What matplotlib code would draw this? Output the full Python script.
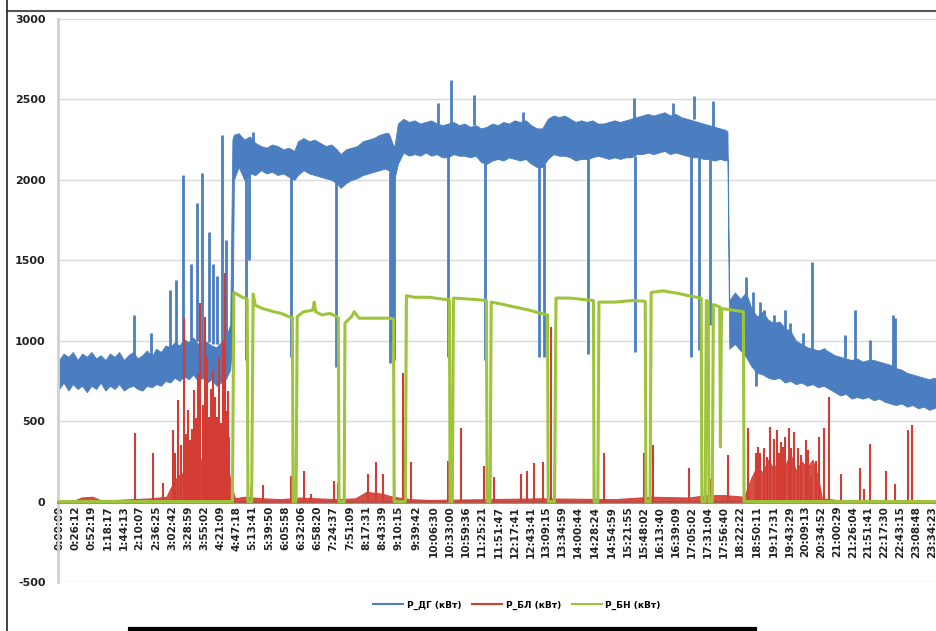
import matplotlib
matplotlib.use("Agg")
import matplotlib.pyplot as plt
from matplotlib.lines import Line2D

plt.rcParams["axes.unicode_minus"] = False

# x tick labels (time of day), every ~26 min
tick_labels = ["0:00:09", "0:26:12", "0:52:19", "1:18:17", "1:44:13", "2:10:07", "2:36:25",
               "3:02:42", "3:28:59", "3:55:02", "4:21:09", "4:47:18", "5:13:41", "5:39:50",
               "6:05:58", "6:32:06", "6:58:20", "7:24:37", "7:51:09", "8:17:31", "8:43:39",
               "9:10:15", "9:39:42", "10:06:30", "10:33:00", "10:59:36", "11:25:21", "11:51:47",
               "12:17:41", "12:43:41", "13:09:15", "13:34:59", "14:00:44", "14:28:24", "14:54:59",
               "15:21:55", "15:48:02", "16:13:40", "16:39:09", "17:05:02", "17:31:04", "17:56:40",
               "18:22:22", "18:50:11", "19:17:31", "19:43:29", "20:09:13", "20:34:52", "21:00:29",
               "21:26:04", "21:51:41", "22:17:30", "22:43:15", "23:08:48", "23:34:23"]

# P_ДГ (kW) - min/max band per time (hours)
dg_t = [0.0, 0.12, 0.25, 0.37, 0.5, 0.62, 0.75, 0.87, 1.0, 1.12, 1.25, 1.37, 1.5, 1.62,
        1.75, 1.87, 2.0, 2.12, 2.25, 2.37, 2.5, 2.62, 2.75, 2.87, 3.0, 3.12, 3.25, 3.37,
        3.5, 3.62, 3.75, 3.87, 4.0, 4.12, 4.25, 4.37, 4.5, 4.62, 4.68,
        4.72, 4.85, 5.0, 5.15, 5.3, 5.45, 5.6, 5.75, 5.9, 6.05, 6.2, 6.35, 6.45, 6.6, 6.75,
        6.9, 7.05, 7.2, 7.35, 7.5, 7.6, 7.75, 7.9, 8.05, 8.2, 8.35, 8.5, 8.65, 8.8, 8.9,
        9.05, 9.15, 9.3, 9.45, 9.6, 9.75, 9.9, 10.05, 10.2, 10.35, 10.5, 10.65, 10.8, 10.95,
        11.1, 11.25, 11.4, 11.55, 11.7, 11.85, 12.0, 12.15, 12.3, 12.45, 12.6, 12.75, 12.9,
        13.05, 13.2, 13.35, 13.5, 13.65, 13.8, 13.95, 14.1, 14.25, 14.4, 14.55, 14.7, 14.85,
        15.0, 15.15, 15.3, 15.45, 15.6, 15.75, 15.9, 16.05, 16.2, 16.35, 16.5, 16.65, 16.8,
        16.95, 17.1, 17.25, 17.4, 17.55, 17.7, 17.85, 18.0, 18.05,
        18.1, 18.25, 18.4, 18.55, 18.7, 18.85, 19.0, 19.15, 19.3, 19.45, 19.6, 19.75, 19.9,
        20.05, 20.2, 20.35, 20.5, 20.65, 20.8, 20.95, 21.1, 21.25, 21.4, 21.55, 21.7, 21.85,
        22.0, 22.15, 22.3, 22.45, 22.6, 22.75, 22.9, 23.05, 23.2, 23.35, 23.5, 23.62, 23.74]
dg_lo = [700, 740, 690, 730, 700, 720, 680, 720, 700, 740, 690, 720, 700, 730,
         690, 710, 720, 700, 690, 720, 710, 730, 720, 750, 740, 770, 750, 780,
         760, 790, 750, 770, 740, 760, 720, 740, 760, 820, 1000,
         2000, 2080, 2000, 2040, 2030, 2060, 2040, 2050, 2030, 2040, 2020, 2000, 2030, 2060, 2040,
         2030, 2020, 2010, 2000, 1980, 1950, 1980, 2000, 2010, 2030, 2040, 2050, 2060, 2070, 2060,
         2000, 2100, 2170, 2150, 2160, 2150, 2170, 2150, 2160, 2140, 2140, 2160, 2150, 2150,
         2140, 2150, 2110, 2100, 2120, 2130, 2120, 2140, 2130, 2120, 2130, 2100, 2080,
         2080, 2130, 2160, 2150, 2150, 2140, 2120, 2130, 2130, 2140, 2150, 2140, 2130,
         2140, 2130, 2140, 2140, 2160, 2160, 2170, 2160, 2170, 2180, 2160, 2170, 2160,
         2150, 2140, 2140, 2130, 2130, 2120, 2130, 2120, 2130,
         950, 980, 940, 900, 840, 800, 790, 770, 760, 770, 740, 750, 730,
         740, 720, 730, 710, 720, 700, 680, 660, 670, 640, 650, 640, 650,
         630, 640, 620, 610, 600, 610, 590, 600, 580, 590, 570, 580, 590]
dg_hi = [880, 920, 900, 930, 880, 920, 900, 930, 890, 910, 880, 920, 900, 930,
         880, 910, 930, 890, 910, 940, 900, 950, 930, 970, 960, 990, 970, 1010,
         990, 1020, 980, 1000, 990, 970, 960, 990, 1020, 1100, 2250,
         2280, 2290, 2250, 2270, 2230, 2210, 2200, 2220, 2210, 2190, 2200, 2180, 2240, 2260, 2240,
         2250, 2230, 2210, 2220, 2190, 2160, 2190, 2200, 2210, 2240, 2250, 2260, 2280, 2290, 2290,
         2200, 2350, 2380, 2360, 2370, 2350, 2360, 2370, 2350, 2340, 2350, 2360, 2340, 2350,
         2330, 2340, 2320, 2330, 2350, 2340, 2360, 2350, 2370, 2360, 2370, 2340, 2320,
         2320, 2380, 2400, 2390, 2400, 2380, 2360, 2370, 2360, 2370, 2350, 2350, 2360,
         2370, 2360, 2370, 2380, 2390, 2400, 2410, 2400, 2410, 2420, 2400, 2410, 2390,
         2380, 2370, 2360, 2350, 2340, 2330, 2320, 2310, 2300,
         1250, 1300, 1260, 1300, 1200, 1150, 1180, 1130, 1110, 1120, 1080, 1060, 1000,
         980, 960, 950, 940, 950, 930, 910, 900, 890, 880, 890, 870, 880,
         880, 870, 860, 850, 830, 820, 800, 790, 780, 770, 760, 770, 760]

# P_ДГ spikes and dips: time, from, to
dg_v_t = [2.03, 2.48, 3.00, 3.16, 3.35, 3.56, 3.73, 3.86, 4.05, 4.16, 4.27, 4.40, 4.51,
          5.05, 5.12, 5.24, 6.27, 7.48, 8.93, 8.98, 9.05, 10.23, 10.50, 10.59, 11.21, 11.50,
          12.53, 12.96, 13.10, 14.29, 15.53, 15.55, 16.58, 17.07, 17.15, 17.28, 17.58, 17.66,
          18.55, 18.74, 18.82, 18.93, 19.04, 19.31, 19.61, 19.74, 20.09, 20.33, 20.66, 21.23,
          21.50, 21.90, 22.52, 22.58]
dg_v_from = [900, 900, 950, 980, 1000, 1000, 1000, 990, 990, 980, 980, 1000, 1020,
             2050, 2050, 2200, 2050, 2020, 2050, 2050, 2050, 2350, 2150, 2350, 2340, 2130,
             2350, 2100, 2100, 2150, 2360, 2150, 2380, 2150, 2380, 2150, 2150, 2330,
             1250, 1150, 900, 1150, 1150, 1100, 1080, 1050, 960, 940, 920, 890,
             870, 870, 830, 830]
dg_v_to = [1160, 1045, 1315, 1377, 2030, 1480, 1855, 2043, 1675, 1480, 1400, 2280, 1625,
           880, 1500, 2300, 900, 835, 860, 1000, 880, 2480, 900, 2620, 2530, 880,
           2420, 900, 900, 920, 2510, 930, 2480, 900, 2520, 940, 1100, 2490,
           1395, 1302, 720, 1240, 1190, 1159, 1190, 1109, 1047, 1489, 953, 1034,
           1190, 1003, 1159, 1140]

# P_БЛ (kW) - base level and spikes
bl_t = [0.0, 0.4, 0.6, 0.9, 1.1, 1.5, 2.0, 2.5, 2.9, 3.0, 3.15, 3.3, 3.4, 3.5, 3.6, 3.7,
        3.8, 3.9, 4.0, 4.1, 4.2, 4.3, 4.4, 4.5, 4.65, 4.75, 5.0, 5.5, 6.0, 6.5, 7.0, 7.5,
        8.0, 8.3, 8.7, 9.0, 9.5, 10.0, 13.0, 15.0, 16.0, 17.0, 17.5, 18.0, 18.5, 18.7,
        18.85, 19.0, 19.15, 19.3, 19.45, 19.6, 19.75, 19.9, 20.05, 20.2, 20.35, 20.5,
        20.6, 21.0, 22.0, 23.74]
bl_v = [5, 5, 25, 30, 10, 10, 15, 20, 30, 80, 140, 180, 120, 250, 160, 220,
        280, 200, 320, 230, 300, 260, 350, 280, 100, 20, 30, 20, 15, 25, 20, 15,
        20, 60, 50, 30, 15, 10, 20, 15, 30, 25, 40, 40, 30, 150,
        220, 180, 260, 200, 280, 220, 300, 190, 250, 210, 260, 150,
        20, 10, 10, 5]
bl_spk_t = [2.05, 2.54, 2.81, 3.08, 3.14, 3.21, 3.30, 3.38, 3.44, 3.48, 3.53, 3.58, 3.65,
            3.70, 3.75, 3.81, 3.88, 3.94, 4.00, 4.05, 4.10, 4.16, 4.22, 4.27, 4.33, 4.37,
            4.42, 4.48, 4.52, 4.56, 4.60,
            5.10, 5.18, 5.51, 6.27, 6.62, 6.81, 7.43, 7.53, 8.34, 8.56, 8.75, 9.05, 9.29, 9.51,
            10.50, 10.86, 11.48, 11.75, 12.48, 12.65, 12.83, 13.07, 13.29, 14.45, 14.72, 15.80,
            16.04, 17.01, 17.58, 18.07, 18.61, 18.82, 18.88, 18.93, 19.04, 19.12, 19.20, 19.31,
            19.39, 19.45, 19.50, 19.56, 19.61, 19.70, 19.78, 19.85, 19.96, 20.04, 20.16, 20.23,
            20.31, 20.44, 20.52, 20.66, 20.79, 21.12, 21.63, 21.74, 21.90, 22.33, 22.58, 22.93,
            23.04]
bl_spk_v = [424, 305, 118, 442, 300, 629, 350, 1140, 420, 567, 380, 450, 691,
            520, 800, 1233, 600, 1146, 900, 523, 700, 816, 650, 523, 900, 486,
            1000, 1420, 560, 690, 400,
            617, 90, 100, 162, 193, 50, 130, 118, 174, 243, 174, 193, 800, 243,
            255, 455, 224, 150, 174, 193, 237, 243, 1084, 174, 299, 299,
            349, 206, 143, 287, 455, 299, 340, 300, 330, 280, 461, 392,
            442, 300, 370, 340, 400, 455, 330, 430, 330, 290, 380, 320,
            150, 250, 399, 455, 648, 174, 206, 81, 361, 193, 112, 442,
            473]

# P_БН (kW)
bn_t = [0.0, 4.68, 4.72, 4.80, 4.95, 5.08, 5.10, 5.20, 5.24, 5.30, 5.5, 5.8, 6.0, 6.2,
        6.30, 6.32, 6.40, 6.43, 6.6, 6.85, 6.89, 6.93, 7.1, 7.3, 7.5, 7.54, 7.56, 7.70,
        7.72, 7.9, 7.97, 8.1, 8.5, 8.9, 9.03, 9.05, 9.35, 9.38, 9.6, 10.0, 10.3, 10.54,
        10.56, 10.62, 10.65, 11.0, 11.3, 11.54, 11.56, 11.64, 11.67, 11.9, 12.3, 12.7,
        13.0, 13.19, 13.21, 13.38, 13.42, 13.8, 14.2, 14.43, 14.45, 14.55, 14.58, 15.0,
        15.5, 15.83, 15.85, 15.96, 15.99, 16.3, 16.7, 17.0, 17.34, 17.36, 17.45, 17.48,
        17.53, 17.55, 17.64, 17.67, 17.84, 17.86, 17.89, 18.2, 18.48, 18.50, 23.74]
bn_v = [0, 0, 1300, 1290, 1270, 1260, 0, 0, 1290, 1220, 1200, 1180, 1170, 1150,
        1145, 0, 0, 1150, 1180, 1190, 1240, 1180, 1160, 1170, 1150, 1140, 0, 0,
        1110, 1150, 1180, 1140, 1140, 1140, 1135, 0, 0, 1280, 1270, 1270, 1260, 1255,
        0, 0, 1265, 1260, 1255, 1250, 0, 0, 1240, 1230, 1210, 1190,
        1170, 1160, 0, 0, 1265, 1265, 1255, 1250, 0, 0, 1240, 1240,
        1250, 1245, 0, 0, 1300, 1310, 1295, 1280, 1265, 0, 0, 1250,
        1245, 0, 0, 1225, 1210, 340, 1200, 1190, 1180, 0, 0]

names = ["Р_ДГ (кВт)", "Р_БЛ (кВт)", "Р_БН (кВт)"]
colors = ["#4a7ec0", "#d23c32", "#9ec43c"]


def to_hours(s):
    h, m, sec = s.split(":")
    return int(h) + int(m) / 60 + int(sec) / 3600


tick_pos = [to_hours(s) for s in tick_labels]

fig = plt.figure(figsize=(9.37, 6.31), dpi=100)
ax = fig.add_axes([58 / 937, 1 - 582 / 631, 879 / 937, 563 / 631])

# blue
ax.fill_between(dg_t, dg_lo, dg_hi, color=colors[0], lw=0.6, zorder=2)
ax.vlines(dg_v_t, dg_v_from, dg_v_to, color=colors[0], lw=2.0, zorder=2)
# red
ax.fill_between(bl_t, 0, bl_v, color=colors[1], lw=0.8, alpha=0.9, zorder=3)
ax.vlines(bl_spk_t, 0, bl_spk_v, color=colors[1], lw=1.5, zorder=3)
# green
ax.plot(bn_t, bn_v, color=colors[2], lw=2.2, zorder=4)

ax.set_xlim(-0.03, 23.71)
ax.set_ylim(-500, 3000)
ax.set_yticks(range(-500, 3001, 500))
ax.grid(axis="y", color="#d9d9d9", lw=1)
ax.set_axisbelow(True)

for side in ["top", "right"]:
    ax.spines[side].set_visible(False)
ax.spines["left"].set_color("#d0d0d0")
ax.spines["left"].set_linewidth(2)
ax.spines["bottom"].set_position(("data", 0))
ax.spines["bottom"].set_color("#8a8a80")
ax.spines["bottom"].set_linewidth(2)

ax.set_xticks(tick_pos)
ax.set_xticklabels(tick_labels, rotation=90, fontsize=7.5, fontweight="bold", color="#222222")
ax.tick_params(axis="x", length=0, pad=3)
ax.tick_params(axis="y", length=0, pad=9, labelsize=8, labelcolor="#222222")
for lab in ax.get_yticklabels():
    lab.set_fontweight("bold")

handles = [Line2D([], [], color=c, lw=1.5) for c in colors]
fig.legend(handles, names, loc="center", bbox_to_anchor=(517 / 937, 1 - 605 / 631), ncol=3,
           frameon=False, prop={"size": 6.5, "weight": "bold"}, handlelength=3.3,
           handletextpad=0.4, columnspacing=1.2)

# scan frame lines
fig.add_artist(Line2D([7 / 937, 1], [1 - 11 / 631, 1 - 11 / 631], transform=fig.transFigure,
                      color="#555555", lw=1.5))
fig.add_artist(Line2D([7 / 937, 7 / 937], [0, 1], transform=fig.transFigure,
                      color="#333333", lw=1.3))
fig.add_artist(Line2D([130 / 937, 755 / 937], [1 - 629 / 631, 1 - 629 / 631],
                      transform=fig.transFigure, color="black", lw=3))

fig.savefig("out.png", dpi=100)
